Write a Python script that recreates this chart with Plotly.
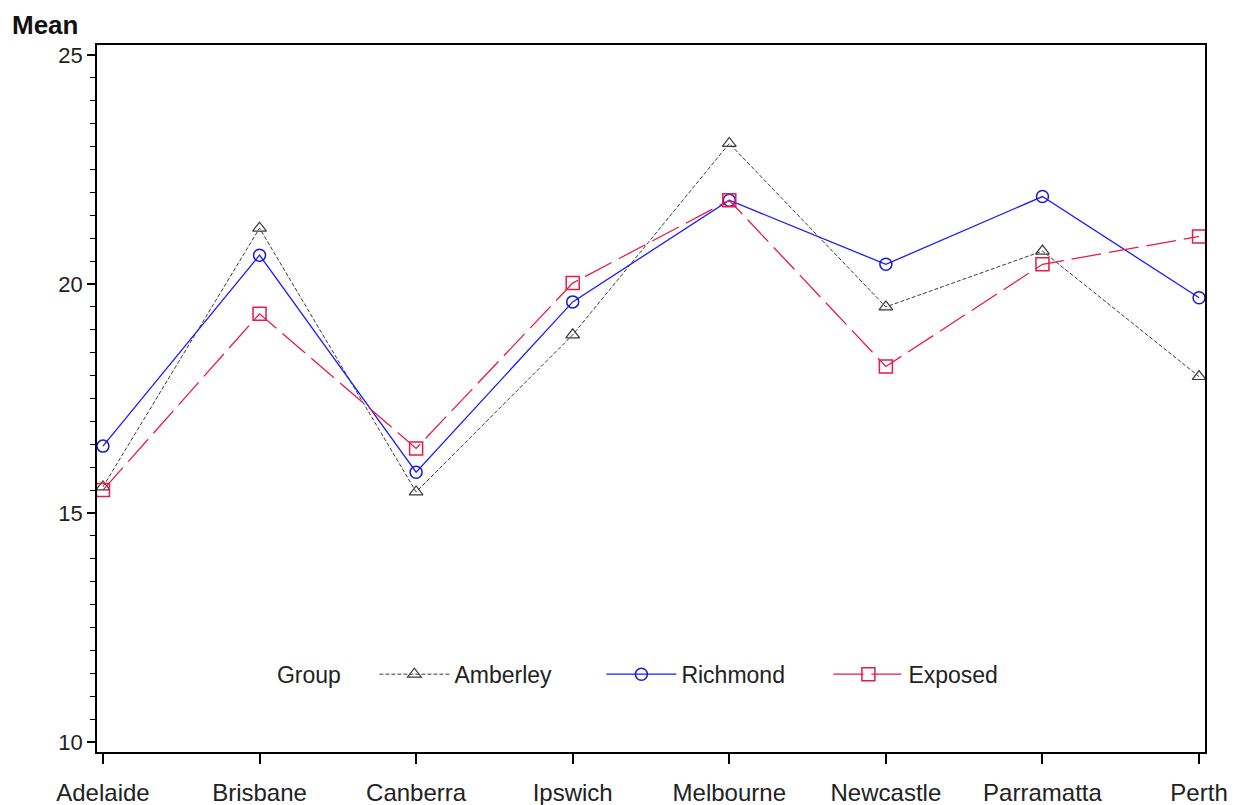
import plotly.graph_objects as go

sites = ["Adelaide", "Brisbane", "Canberra", "Ipswich", "Melbourne",
         "Newcastle", "Parramatta", "Perth"]
amberley = [15.57, 21.22, 15.46, 18.89, 23.07, 19.50, 20.72, 17.98]
richmond = [16.46, 20.63, 15.89, 19.61, 21.83, 20.43, 21.91, 19.70]
exposed = [15.50, 19.35, 16.41, 20.02, 21.83, 18.20, 20.43, 21.04]

y_ticks = [10, 15, 20, 25]

x_idx = list(range(len(sites)))

fig = go.Figure()
fig.add_trace(go.Scatter(
    x=x_idx, y=amberley, name="Amberley", mode="lines+markers",
    line=dict(color="#3a3a3a", width=1, dash="4px,2px"),
    marker=dict(symbol="triangle-up-open", size=12, color="#3a3a3a",
                line=dict(width=1.2)),
))
fig.add_trace(go.Scatter(
    x=x_idx, y=richmond, name="Richmond", mode="lines+markers",
    line=dict(color="#1a1aff", width=1.3),
    marker=dict(symbol="circle-open", size=12, color="#1a1acc",
                line=dict(width=1.5)),
))
fig.add_trace(go.Scatter(
    x=x_idx, y=exposed, name="Exposed", mode="lines+markers",
    line=dict(color="#e8194b", width=1.3, dash="30px,8px"),
    marker=dict(symbol="square-open", size=13, color="#e8194b",
                line=dict(width=1.5)),
))

font_family = "Liberation Sans, Arial, sans-serif"
W, H = 1237, 805
L, R, T, B = 97, 32, 45, 53
pw, ph = W - L - R, H - T - B

fig.update_layout(
    width=W, height=H,
    margin=dict(l=L, r=R, t=T, b=B),
    paper_bgcolor="white", plot_bgcolor="white",
    font=dict(family=font_family, size=23, color="#222222"),
    showlegend=True,
    legend=dict(
        orientation="h", x=0.513, xanchor="center", y=0.11, yanchor="middle",
        bgcolor="rgba(0,0,0,0)", font=dict(size=23, color="#222222"),
        title=dict(text="Group    ", font=dict(size=23, color="#222222")),
        itemwidth=70, entrywidth=142,
    ),
    annotations=[dict(
        text="<b>Mean</b>", x=(10 - L) / pw, y=1 + (T - 25) / ph,
        xref="paper", yref="paper",
        xanchor="left", yanchor="middle", showarrow=False,
        font=dict(size=26, color="#111111", family=font_family),
    )],
)

fig.update_xaxes(
    range=[-0.038, 7.038], tickmode="array", tickvals=x_idx, ticktext=sites,
    showgrid=False, zeroline=False, showline=True, linecolor="black",
    linewidth=1.5, mirror=True, ticks="outside", ticklen=10, tickwidth=1.5,
    tickcolor="black", tickfont=dict(size=24, color="#222222"),
    automargin=False, ticklabelstandoff=8,
)
fig.update_yaxes(
    range=[9.78, 25.22], tickmode="array", tickvals=y_ticks,
    showgrid=False, zeroline=False, showline=True, linecolor="black",
    linewidth=1.5, mirror=True, ticks="outside", ticklen=8, tickwidth=1.5,
    tickcolor="black", tickfont=dict(size=22, color="#222222"),
    automargin=False,
    minor=dict(dtick=0.5, tick0=10, ticks="outside", ticklen=5,
               tickwidth=1, tickcolor="black", showgrid=False),
)

fig.write_html("out.html")
